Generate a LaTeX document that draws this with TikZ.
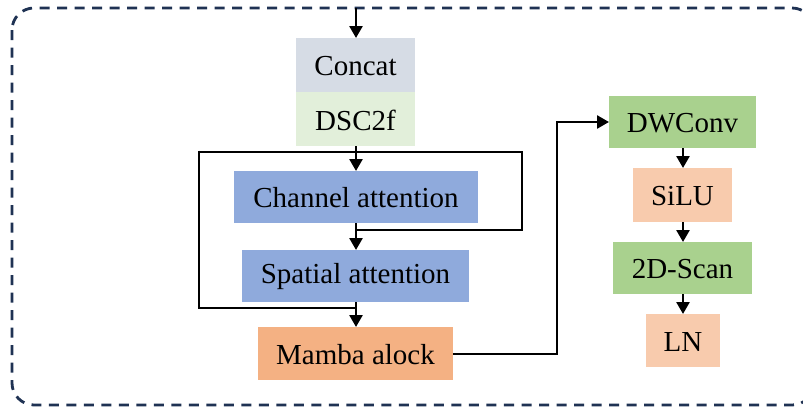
\documentclass[tikz,border=0pt]{standalone}
\usepackage{fontspec}
\setmainfont{Liberation Serif}
\usetikzlibrary{arrows.meta}
\definecolor{frameblue}{HTML}{1F3253}
\definecolor{concatgray}{HTML}{D6DCE5}
\definecolor{dscgreen}{HTML}{E2EFDA}
\definecolor{attblue}{HTML}{8FAADC}
\definecolor{mambaorange}{HTML}{F4B183}
\definecolor{opgreen}{HTML}{A9D18E}
\definecolor{oplight}{HTML}{F8CBAD}
\tikzset{
  blk/.style={inner sep=0pt, font=\fontsize{29}{31}\selectfont},
  flow/.style={line width=2.6pt, -{Triangle[length=12pt,width=13pt]}},
  wire/.style={line width=2.6pt},
}
\begin{document}
\begin{tikzpicture}[x=1pt,y=-1pt]
\useasboundingbox (0,0) rectangle (803,410);
\fill[white] (0,0) rectangle (803,410);
\begin{scope}
\clip (0,0) rectangle (803,410);
\draw[frameblue, line width=2.8pt, dash pattern=on 10pt off 7.5pt, rounded corners=22pt] (12,8) rectangle (814,405);
\end{scope}

% blocks (filled boxes, text centred)
\fill[concatgray] (296,38) rectangle (415,92);
\node[blk] (concat) at (355.5,66) {Concat};
\fill[dscgreen] (296,92) rectangle (415,146);
\node[blk] (dsc) at (355.5,120) {DSC2f};
\fill[attblue] (234,171) rectangle (478,223);
\node[blk] (chan) at (356,198) {Channel attention};
\fill[attblue] (242,250) rectangle (469,302);
\node[blk] (spat) at (355.5,277) {Spatial attention};
\fill[mambaorange] (258,327) rectangle (453,380);
\node[blk] (mamba) at (355.5,354.5) {Mamba alock};

\fill[opgreen] (609,96) rectangle (756,148);
\node[blk] (dw) at (682.5,123) {DWConv};
\fill[oplight] (633,168) rectangle (732,222);
\node[blk] (silu) at (682.5,196) {SiLU};
\fill[opgreen] (613,242) rectangle (752,294);
\node[blk] (scan) at (682.5,269) {2D-Scan};
\fill[oplight] (646,314) rectangle (720,367);
\node[blk] (ln) at (683,341.5) {LN};

% anchor points for connectors
\coordinate (in) at (356,8);
\coordinate (concatT) at (356,38);
\coordinate (dscB) at (356,146);
\coordinate (chanT) at (356,171);
\coordinate (chanB) at (356,223);
\coordinate (spatT) at (356,250);
\coordinate (spatB) at (356,302);
\coordinate (mambaT) at (356,327);
\coordinate (mambaR) at (453,354);
\coordinate (dwL) at (609,122);
\coordinate (dwB) at (683,148);
\coordinate (siluT) at (683,168);
\coordinate (siluB) at (683,222);
\coordinate (scanT) at (683,242);
\coordinate (scanB) at (683,294);
\coordinate (lnT) at (683,314);

% main flow
\draw[flow] (in) -- (concatT);
\draw[flow] (dscB) -- (chanT);
\draw[flow] (chanB) -- (spatT);
\draw[flow] (spatB) -- (mambaT);

% residual loops
\draw[wire] (199,152) -- (522,152) -- (522,230) -- (355,230);
\draw[wire] (199,150.7) -- (199,308) -- (357,308);

% into the Mamba branch
\draw[flow] (mambaR) -- (557,354) -- (557,122) -- (dwL);
\draw[flow] (dwB) -- (siluT);
\draw[flow] (siluB) -- (scanT);
\draw[flow] (scanB) -- (lnT);
\end{tikzpicture}
\end{document}
